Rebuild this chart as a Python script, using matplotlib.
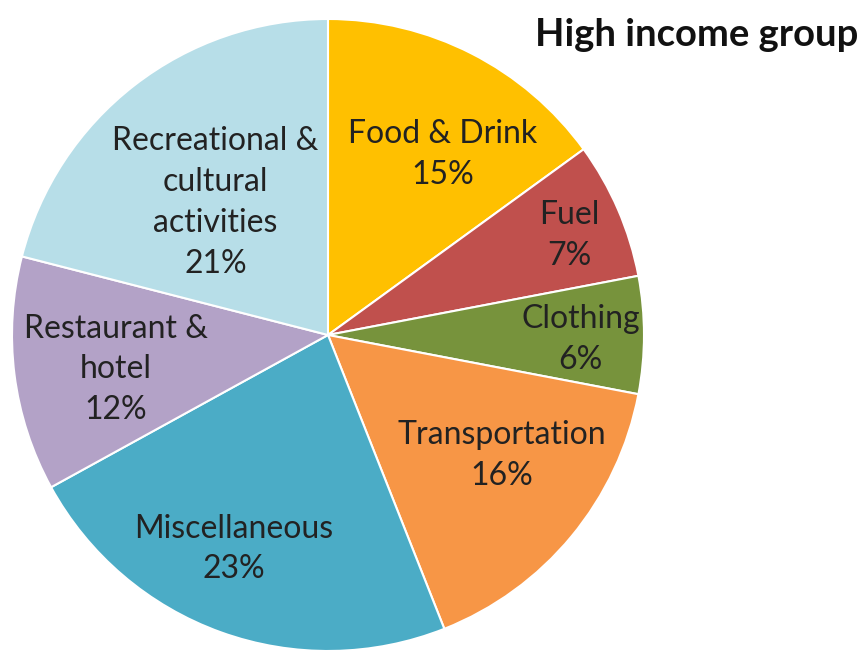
import matplotlib
matplotlib.use("Agg")
import matplotlib.pyplot as plt
import numpy as np

categories = ["Food & Drink", "Fuel", "Clothing", "Transportation",
              "Miscellaneous", "Restaurant &\nhotel", "Recreational &\ncultural\nactivities"]
values = [15, 7, 6, 16, 23, 12, 21]
colors = ["#FFC000", "#C0504D", "#77933C", "#F79646", "#4BACC6", "#B3A2C7", "#B7DEE8"]
label_radius = [0.677, 0.826, 0.80, 0.67, 0.74, 0.68, 0.55]
label_angle_shift = [-5.4, -0.9, -1.0, 4.9, -4.0, 2.0, 2.5]
title = "High income group"

plt.rcParams['font.family'] = ['Lato', 'DejaVu Sans']

W, H = 863, 653
fig = plt.figure(figsize=(W / 100, H / 100), dpi=100)
cx, cy, r = 328, 335, 316
ax = fig.add_axes([(cx - r) / W, (H - cy - r) / H, 2 * r / W, 2 * r / H])

wedges, _ = ax.pie(values, colors=colors, startangle=90, counterclock=False,
                   wedgeprops=dict(edgecolor="white", linewidth=1.5))
ax.set_xlim(-1, 1)
ax.set_ylim(-1, 1)
ax.set_aspect("equal")

total = sum(values)
for w, cat, v, lr, da in zip(wedges, categories, values, label_radius, label_angle_shift):
    ang = np.deg2rad((w.theta1 + w.theta2) / 2 + da)
    x, y = lr * np.cos(ang), lr * np.sin(ang)
    ax.text(x, y, f"{cat}\n{round(100 * v / total)}%", ha="center", va="center",
            fontsize=23, color="#222222", linespacing=1.45)

fig.text(697 / W, 1 - 35 / H, title, ha="center", va="center",
         fontsize=27.5, fontweight="bold", color="#111111")

fig.savefig("out.png", dpi=100)
